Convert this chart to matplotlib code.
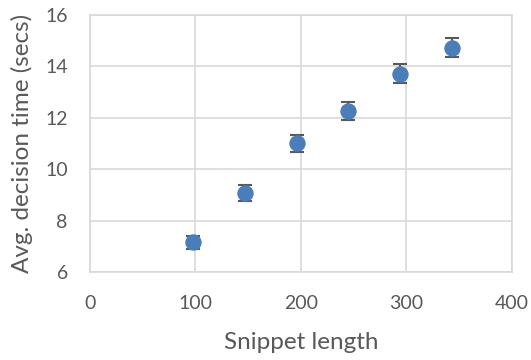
import numpy as np
import matplotlib
matplotlib.use("Agg")
import matplotlib.pyplot as plt

snippet_len = [98, 147, 196, 245, 294, 343]
avg_time = [7.17, 9.09, 11.01, 12.27, 13.72, 14.72]
err = [0.26, 0.31, 0.32, 0.34, 0.36, 0.37]

x_ticks = [0, 100, 200, 300, 400]
y_ticks = [6, 8, 10, 12, 14, 16]

txt = "#595959"
plt.rcParams['font.family'] = ['Lato', 'DejaVu Sans']

fig = plt.figure(figsize=(5.31, 3.6), dpi=100)
ax = fig.add_axes([0.1695, 0.2436, 0.794, 0.7147])

ax.errorbar(snippet_len, avg_time, yerr=err, fmt='o', color='#4a7ebb',
            markersize=10.8, ecolor='#595959', elinewidth=1.5, capsize=5,
            capthick=1.5, zorder=3)

ax.set_xlim(0, 400)
ax.set_ylim(6, 16)
ax.set_xticks(x_ticks)
ax.set_yticks(y_ticks)
ax.grid(True, color='#d9d9d9', linewidth=1.2)
ax.set_axisbelow(True)
for s in ax.spines.values():
    s.set_color('#d9d9d9')
    s.set_linewidth(1.2)
ax.tick_params(length=0, labelsize=14, colors=txt)
ax.tick_params(axis='x', pad=16)
ax.tick_params(axis='y', pad=16)
ax.set_xlabel("Snippet length", fontsize=17.5, color=txt, labelpad=15)
ax.set_ylabel("Avg. decision time (secs)", fontsize=17.5, color=txt, labelpad=9)

fig.savefig("out.png", dpi=100)
